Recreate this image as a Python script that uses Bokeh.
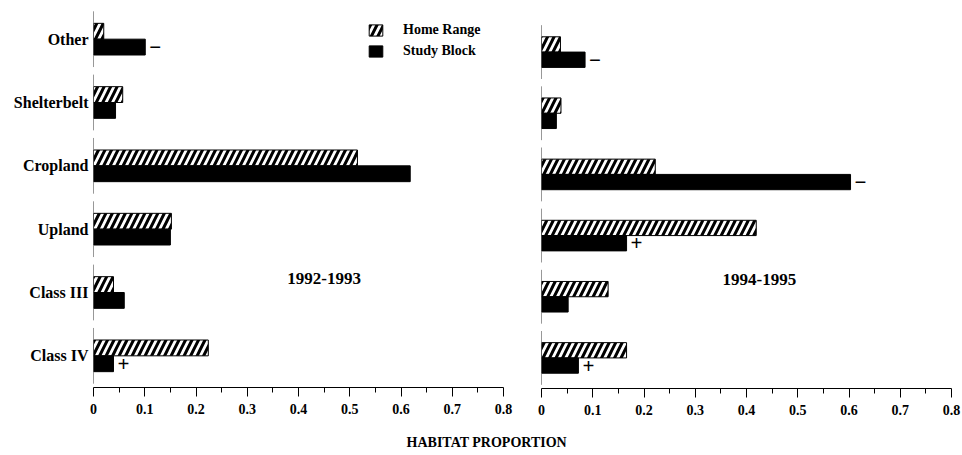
from bokeh.plotting import figure
from bokeh.models import Range1d, FactorRange, FixedTicker, ColumnDataSource, Legend, LegendItem, Spacer
from bokeh.layouts import row, column
from bokeh.transform import dodge
from bokeh.core.properties import value
from bokeh.embed import file_html
from bokeh.resources import INLINE

# ---------------- data ----------------
categories = ["Other", "Shelterbelt", "Cropland", "Upland", "Class III", "Class IV"]

home_9293 = [0.020, 0.057, 0.515, 0.152, 0.039, 0.224]
block_9293 = [0.101, 0.043, 0.618, 0.150, 0.060, 0.039]
sign_9293 = ["\u2212", "", "", "", "", "+"]

home_9495 = [0.037, 0.038, 0.222, 0.419, 0.130, 0.166]
block_9495 = [0.085, 0.029, 0.603, 0.166, 0.052, 0.072]
sign_9495 = ["\u2212", "", "\u2212", "+", "", "+"]

tick_values = [0, 0.1, 0.2, 0.3, 0.4, 0.5, 0.6, 0.7, 0.8]
tick_labels = ["0", "0.1", "0.2", "0.3", "0.4", "0.5", "0.6", "0.7", "0.8"]
minor_values = [0.05, 0.15, 0.25, 0.35, 0.45, 0.55, 0.65, 0.75]

period_labels = ["1992-1993", "1994-1995"]
series_names = ["Home Range", "Study Block"]
x_title = "HABITAT PROPORTION"

FONT = "Liberation Serif"


def panel(home, block, signs, period, period_x, period_dy, show_labels, legend,
          width, height, b_left, b_right, b_top, b_bottom):
    p = figure(width=width, height=height,
               x_range=Range1d(0, 0.8),
               y_range=FactorRange(*reversed(categories), range_padding=0),
               output_backend="svg", toolbar_location=None,
               min_border_left=b_left, min_border_right=b_right,
               min_border_top=b_top, min_border_bottom=b_bottom)
    p.outline_line_color = None
    p.xgrid.visible = False
    p.ygrid.visible = False
    p.background_fill_color = "white"

    src = ColumnDataSource(dict(cat=categories, home=home, block=block, sign=signs))

    r_home = p.hbar(y=dodge("cat", 0.125, range=p.y_range), right="home", left=0, height=0.25,
                    source=src, fill_color="white", line_color="black", line_width=1,
                    hatch_pattern="/", hatch_color="black", hatch_weight=3, hatch_scale=13)
    r_block = p.hbar(y=dodge("cat", -0.125, range=p.y_range), right="block", left=0, height=0.25,
                     source=src, fill_color="black", line_color="black", line_width=1)

    # significance marks
    p.text(x="block", y=dodge("cat", -0.125, range=p.y_range), text="sign", source=src,
           x_offset=4, text_align="left", text_baseline="middle",
           text_font=value(FONT), text_font_size="21px", text_font_style="bold", text_color="black")

    # broken y axis
    seg = ColumnDataSource(dict(cat=categories, x0=[0] * len(categories)))
    p.segment(x0="x0", x1="x0", y0=dodge("cat", -0.44, range=p.y_range),
              y1=dodge("cat", 0.44, range=p.y_range), source=seg,
              line_color="#333333", line_width=1)

    # period label
    psrc = ColumnDataSource(dict(x=[period_x], cat=["Class III"], t=[period]))
    p.text(x="x", y=dodge("cat", period_dy, range=p.y_range), text="t", source=psrc,
           text_align="center", text_baseline="middle", text_font=value(FONT),
           text_font_size="17px", text_font_style="bold", text_color="black")

    # x axis
    xa = p.xaxis[0]
    xa.ticker = FixedTicker(ticks=tick_values, minor_ticks=minor_values)
    xa.major_label_overrides = {v: l for v, l in zip(tick_values, tick_labels)}
    xa.axis_line_color = "black"
    xa.axis_line_width = 1
    xa.major_tick_out = 9
    xa.major_tick_in = 0
    xa.minor_tick_out = 5
    xa.minor_tick_in = 0
    xa.major_tick_line_color = "black"
    xa.minor_tick_line_color = "black"
    xa.major_label_standoff = 7
    xa.major_label_text_font = FONT
    xa.major_label_text_font_style = "bold"
    xa.major_label_text_font_size = "14px"
    xa.major_label_text_color = "black"

    ya = p.yaxis[0]
    if show_labels:
        ya.axis_line_color = None
        ya.major_tick_line_color = None
        ya.minor_tick_line_color = None
        ya.major_tick_out = 0
        ya.major_tick_in = 0
        ya.major_label_standoff = 5
        ya.major_label_text_font = FONT
        ya.major_label_text_font_style = "bold"
        ya.major_label_text_font_size = "16px"
        ya.major_label_text_color = "black"
    else:
        ya.visible = False

    if legend:
        lg = Legend(items=[LegendItem(label=series_names[0], renderers=[r_home]),
                           LegendItem(label=series_names[1], renderers=[r_block])],
                    location=(274, 328), orientation="vertical",
                    glyph_width=17, glyph_height=14, label_height=14, label_width=84,
                    spacing=5, padding=3, margin=0, label_standoff=19,
                    border_line_color=None, background_fill_alpha=0,
                    label_text_font=FONT, label_text_font_style="bold",
                    label_text_font_size="14px", label_text_color="black")
        p.add_layout(lg, "center")
    return p


# left panel: frame x 93..503, y 7..387
left = panel(home_9293, block_9293, sign_9293, period_labels[0], 0.45, 0.22, True, True,
             522, 428, 93, 19, 7, 41)
# right panel: frame x 541..951, y 21..388
right = panel(home_9495, block_9495, sign_9495, period_labels[1], 0.425, 0.28, False, False,
              439, 414, 19, 10, 7, 40)

bottom = figure(width=961, height=24, x_range=Range1d(0, 1), y_range=Range1d(0, 1),
                output_backend="svg", toolbar_location=None, min_border=0)
bottom.outline_line_color = None
bottom.xaxis.visible = False
bottom.yaxis.visible = False
bottom.xgrid.visible = False
bottom.ygrid.visible = False
tsrc = ColumnDataSource(dict(x=[0.506], y=[0.4], t=[x_title]))
bottom.text(x="x", y="y", text="t", source=tsrc, text_align="center", text_baseline="middle",
            text_font=value(FONT), text_font_size="14px", text_font_style="bold", text_color="black")

layout = column(row(left, column(Spacer(width=439, height=14), right)), bottom)

open("out.html", "w").write(file_html(layout, INLINE))
